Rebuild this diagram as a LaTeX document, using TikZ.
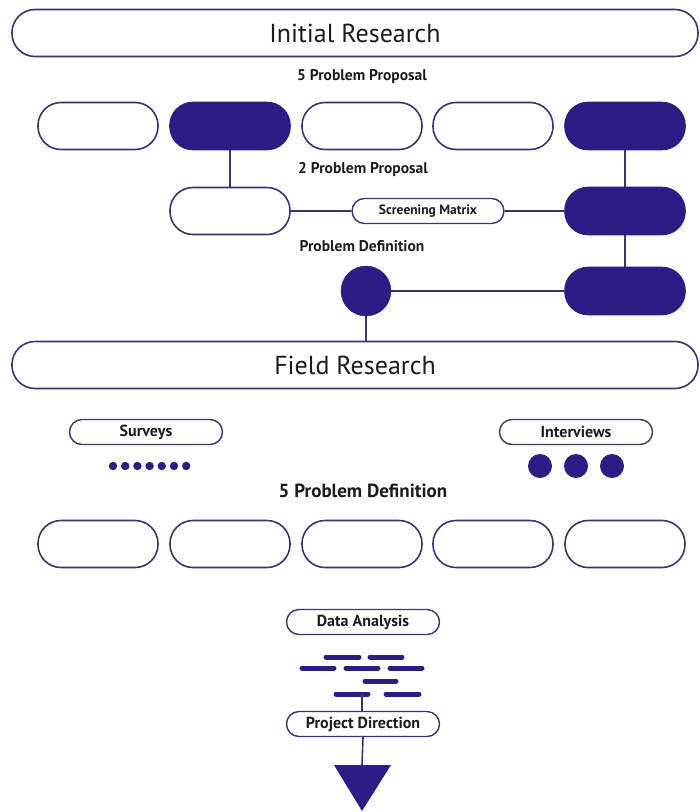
\documentclass[tikz,border=0pt]{standalone}
\usepackage{fontspec}
\setmainfont{PT Sans}
\usepackage{xcolor}
\definecolor{ink}{HTML}{2C1C84}
\definecolor{rim}{HTML}{3B3470}
\definecolor{txt}{HTML}{1C1C1C}
\usetikzlibrary{calc}

\tikzset{
  pill/.style={draw=rim, line width=1.6pt, fill=white, rounded corners=23pt, minimum width=120pt, minimum height=47pt, inner sep=0pt},
  darkpill/.style={pill, draw=ink, fill=ink},
  banner/.style={pill, minimum width=686pt, text=txt, font=\fontsize{26}{30}\selectfont},
  tag/.style={draw=rim, line width=1.4pt, fill=white, rounded corners=12.5pt, minimum width=153pt, minimum height=25pt, inner sep=0pt, text=txt, font=\fontsize{16}{18}\selectfont\bfseries},
  caption/.style={text=txt, font=\fontsize{15.5}{18}\selectfont\bfseries},
  link/.style={draw=rim, line width=1.6pt},
  bar/.style={draw=ink, line width=5pt, line cap=round},
}

\begin{document}
\begin{tikzpicture}[x=1pt, y=-1pt]
  \useasboundingbox (0,0) rectangle (700,812);

  % initial research
  \node[banner] (init) at (355,33) {Initial Research};
  \node[caption] (cap1) at (362,77) {5 Problem Proposal};
  \foreach \nm/\xpos/\sty in {r1a/98/pill, r1b/230/darkpill, r1c/362/pill, r1d/493/pill, r1e/625/darkpill} {
    \node[\sty] (\nm) at (\xpos,126) {};
  }
  \node[caption] (cap2) at (363,170) {2 Problem Proposal};
  \node[pill] (r2a) at (230,211) {};
  \node[tag, minimum width=152pt, font=\fontsize{13.5}{15}\selectfont\bfseries] (screen) at (428,211) {Screening Matrix};
  \node[darkpill] (r2b) at (625,211) {};
  \node[caption] (cap3) at (362,246) {Problem Definition};
  \node[circle, fill=ink, draw=ink, minimum size=50pt, inner sep=0pt] (pdef) at (366,291) {};
  \node[darkpill] (r3b) at (625,291) {};

  \draw[link] (r1b) -- (r2a);
  \draw[link] (r2a) -- (screen) -- (r2b);
  \draw[link] (r1e) -- (r2b) -- (r3b);
  \draw[link] (pdef) -- (r3b);

  % field research
  \node[banner] (field) at (355,365) {Field Research};
  \draw[link] (pdef.south) -- (pdef.south |- field.north);

  \node[tag] (surv) at (146,432) {Surveys};
  \node[tag] (intv) at (576,432) {Interviews};
  \foreach \i in {0,...,6} {
    \fill[ink] (113+\i*12.2,466) circle (4.2pt);
  }
  \foreach \xpos in {540,576,612} {
    \fill[ink] (\xpos,466) circle (12pt);
  }
  \node[caption, font=\fontsize{19}{22}\selectfont\bfseries] (cap4) at (363,491) {5 Problem Definition};
  \foreach \nm/\xpos in {r4a/98, r4b/230, r4c/362, r4d/493, r4e/625} {
    \node[pill] (\nm) at (\xpos,544) {};
  }

  % analysis
  \node[tag] (data) at (363,622) {Data Analysis};
  \foreach \xa/\xb/\ypos in {326/359/657, 370/402/657, 302/334/668, 346/378/668, 390/422/668, 365/396/681, 336/368/694, 386/419/694} {
    \draw[bar] (\xa,\ypos) -- (\xb,\ypos);
  }
  \coordinate (dashend) at (362,694);
  \node[tag] (proj) at (363,724) {Project Direction};
  \draw[link] (dashend) -- (dashend |- proj.north);
  \coordinate (tip) at (362,765);
  \draw[link] (proj.south) -- (tip);
  \fill[ink] (334,765) -- (391,765) -- (362,811) -- cycle;
\end{tikzpicture}
\end{document}
